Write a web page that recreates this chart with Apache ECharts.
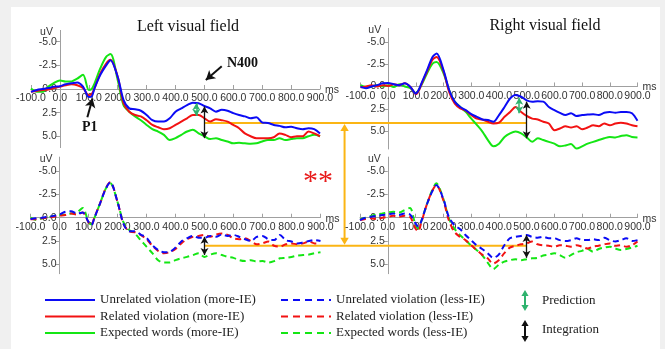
<!DOCTYPE html>
<html>
<head>
<meta charset="utf-8">
<script src="https://cdn.jsdelivr.net/npm/echarts@6/dist/echarts.min.js"></script>
<style>
html,body{margin:0;padding:0;background:#f0f0f0}
#main{width:665px;height:349px}
</style>
</head>
<body>
<div id="main"></div>
<script>
// 时间点 (ms)
var times = [-100,-80,-60,-40,-20,0,20,40,60,80,100,110,120,140,160,175,
  200,220,240,260,280,300,320,340,360,380,400,420,440,460,480,500,520,540,560,580,
  600,620,640,660,680,700,720,740,760,780,800,820,840,860,880,900];

var xTicks = [-100,0,100,200,300,400,500,600,700,800,900];
var yTicks = [-5,-2.5,0,2.5,5];

// Left visual field, more-IE
var lvUnrelMore = [0.3,0.1,0.0,-0.1,-0.25,-0.3,-0.5,-0.6,-0.7,-0.25,0.85,0.8,-0.1,-1.5,-2.5,-3.05,
  -1.3,1.15,2.05,2.15,2.3,2.75,3.3,3.45,3.45,3.1,2.4,2.05,1.7,1.45,1.5,1.8,2.05,2.4,2.2,2.3,
  2.55,2.75,2.9,3.1,3.0,3.55,3.6,3.8,3.9,4.05,4.0,4.15,4.25,4.15,4.25,4.7];
var lvRelMore = [0.3,0.2,0.1,0.05,-0.1,-0.25,-0.4,-0.5,-0.4,-0.1,0.65,0.55,-0.1,-1.65,-2.7,-3.1,
  -1.3,1.5,2.4,2.75,2.9,3.3,3.8,4.05,4.25,4.15,3.8,3.45,3.1,2.75,2.75,3.1,3.45,3.2,3.3,3.45,
  3.8,4.15,4.7,5.0,5.2,5.2,5.2,5.1,4.7,4.85,5.1,5.0,5.0,4.5,4.7,5.0];
var lvExpMore = [-0.05,0.3,0.3,-0.25,-0.65,-0.9,-0.8,-0.8,-1.1,-1.5,0.1,0.0,-0.6,-2.2,-3.4,-3.7,
  -0.95,1.7,2.4,2.9,3.3,3.8,4.25,4.5,4.85,5.4,5.2,4.85,4.5,4.3,4.7,5.0,5.3,5.2,5.4,5.55,
  5.75,5.7,5.75,5.8,5.75,5.55,5.4,5.4,5.2,5.4,5.3,5.2,5.2,5.0,4.85,5.0];

// Right visual field, more-IE
var rvUnrelMore = [0.05,0.2,0.0,-0.15,-0.35,-0.4,-0.25,-0.15,-0.35,0.05,0.8,0.4,-0.35,-1.8,-3.3,-3.7,
  -1.8,0.4,1.7,2.3,2.65,3.1,3.4,3.7,3.75,3.95,3.2,2.3,1.35,0.95,1.15,1.55,1.7,1.65,1.7,2.3,
  2.65,2.95,3.2,3.0,3.3,3.2,3.15,3.1,3.2,2.95,2.85,2.95,2.85,2.85,3.0,3.85];
var rvRelMore = [0.1,0.0,-0.15,0.0,-0.15,-0.05,-0.25,-0.15,-0.35,0.05,0.85,0.5,-0.25,-1.65,-3.0,-3.3,
  -1.65,0.6,1.9,2.45,2.7,3.2,3.6,3.7,3.95,4.15,4.05,3.4,2.85,2.3,2.85,3.3,3.6,3.7,3.95,4.15,
  4.9,4.7,4.45,4.6,4.45,4.8,4.6,4.35,4.45,4.15,4.35,4.15,4.05,4.15,4.35,4.45];
var rvExpMore = [-0.15,0.05,0.0,-0.15,0.0,-0.15,0.05,-0.25,0.0,0.2,0.8,0.4,-0.15,-1.45,-2.55,-2.75,
  -1.45,0.4,1.7,2.3,2.85,3.6,4.3,5.05,6.0,6.7,6.4,5.65,5.25,5.05,5.25,5.7,6.2,5.8,6.0,6.2,
  6.4,6.7,6.6,6.45,6.95,6.7,6.4,6.2,6.0,5.8,5.65,5.7,5.55,5.45,5.65,5.7];

// Left visual field, less-IE
var lvUnrelLess = [0.15,0.05,0.0,-0.1,-0.2,-0.35,-0.65,-0.7,-0.45,-0.55,0.45,0.8,0.05,-1.55,-3.15,-3.8,
  -1.7,0.6,1.45,1.45,1.8,2.15,2.95,3.45,3.7,3.65,3.2,2.55,2.2,1.95,2.15,2.15,1.95,2.05,1.8,1.95,
  1.85,2.05,2.3,2.5,2.05,1.95,2.3,2.4,1.85,2.4,2.55,2.75,2.65,2.5,2.4,2.5];
var lvRelLess = [0.15,0.15,0.05,0.0,-0.1,-0.2,-0.3,-0.45,-0.35,-0.55,0.5,0.8,0.0,-1.55,-3.2,-3.8,
  -1.7,0.6,1.45,1.55,1.85,2.3,3.0,3.55,3.8,3.7,3.35,2.75,2.3,2.05,1.95,1.85,2.05,1.8,1.7,1.85,
  2.2,2.3,2.2,2.5,2.85,2.75,2.55,3.0,3.1,2.85,2.75,2.85,2.75,2.55,2.75,2.75];
var lvExpLess = [0.0,0.25,0.05,0.0,-0.2,-0.3,-0.35,-0.45,-0.55,-1.05,0.45,0.7,0.05,-1.55,-3.15,-3.7,
  -1.7,0.45,1.3,1.7,2.4,3.1,3.8,4.55,4.8,4.8,4.55,4.35,4.2,4.0,3.8,4.2,3.95,3.8,4.0,4.2,
  4.3,4.55,4.65,4.55,4.7,4.65,4.8,4.65,4.35,4.3,4.2,4.05,4.0,3.95,3.8,3.7];

// Right visual field, less-IE
var rvUnrelLess = [0.25,0.0,-0.1,-0.2,-0.3,-0.35,-0.45,-0.3,-0.45,-0.35,0.6,0.95,0.45,-1.35,-2.8,-3.5,
  -2.05,-0.1,0.8,1.2,1.85,2.4,2.95,3.35,3.8,4.3,3.95,2.95,2.2,2.05,1.95,1.85,2.05,2.15,2.05,2.2,
  2.2,2.4,2.5,2.4,2.2,2.4,2.4,2.3,2.4,2.15,2.4,2.55,2.4,2.2,2.5,2.4];
var rvRelLess = [0.25,0.15,0.05,0.15,0.0,-0.1,-0.2,-0.1,-0.2,-0.1,1.15,1.45,0.6,-1.35,-2.85,-3.5,
  -1.9,0.25,1.5,2.05,2.4,2.95,3.45,3.95,4.35,4.9,4.55,3.8,3.2,3.0,2.85,2.75,2.55,2.85,2.95,3.0,
  3.1,2.95,3.0,3.1,2.95,3.1,3.3,3.1,3.0,2.85,2.75,3.0,2.95,3.1,2.95,2.55];
var rvExpLess = [0.15,0.0,-0.2,-0.35,-0.45,-0.55,-0.65,-0.55,-0.8,-1.05,0.8,1.15,0.45,-1.35,-2.95,-3.7,
  -2.05,0.05,1.15,1.85,2.4,2.95,3.45,4.0,4.8,5.5,5.05,4.7,4.55,4.45,4.55,4.45,4.35,4.3,4.05,3.95,
  3.8,4.0,4.3,4.0,3.7,3.55,3.35,3.65,3.35,3.2,3.1,3.3,3.45,3.35,3.2,3.0];

var seriesNames = ['Unrelated violation', 'Related violation', 'Expected words'];

var myChart = echarts.init(document.getElementById('main'));
var ink = '#333', axisGray = '#a0a0a0';
var sans = 'Liberation Sans, Arial, sans-serif';
var serif = 'Liberation Serif, Times New Roman, serif';
var blue = '#0b0bf5', red = '#f21212', green = '#14e614', predColor = '#2fb36e', orange = '#fbb514';
var colors = [blue, red, green];

var grids = [
  {left: 31, top: 30.4, width: 289, height: 117.2},
  {left: 360.5, top: 28.4, width: 277, height: 120.6},
  {left: 30.5, top: 157.1, width: 290, height: 116.6},
  {left: 360, top: 157.1, width: 277.5, height: 116.6}
];
var yRanges = [[-6.2, 6.2], [-6.5, 7.0], [-6.5, 6.0], [-6.5, 6.0]];
var xMin = -100, xMax = 900;

function pairs(arr) {
  return times.map(function (t, k) { return [t, arr[k]]; });
}

function line(name, arr, gi, color, dashed) {
  return {
    type: 'line', name: name, xAxisIndex: gi, yAxisIndex: gi,
    data: pairs(arr), symbol: 'none', smooth: 0.3, silent: true,
    lineStyle: {color: color, width: 2, type: dashed ? [6, 4] : 'solid'},
    itemStyle: {color: color}
  };
}

function arrowMark(items, color, width, size) {
  return {
    silent: true, symbol: ['arrow', 'arrow'], symbolSize: size,
    label: {show: false},
    lineStyle: {color: color, width: width, type: 'solid'},
    data: items
  };
}

var groups = [
  [lvUnrelMore, lvRelMore, lvExpMore, ' (more-IE)', false],
  [rvUnrelMore, rvRelMore, rvExpMore, ' (more-IE)', false],
  [lvUnrelLess, lvRelLess, lvExpLess, ' (less-IE)', true],
  [rvUnrelLess, rvRelLess, rvExpLess, ' (less-IE)', true]
];

// 黑色箭头(Integration)
var integ = [
  [[{coord: [500, 1.85]}, {coord: [500, 5.2]}]],
  [[{coord: [500, 1.7]}, {coord: [500, 5.8]}]],
  [[{coord: [500, 2.05]}, {coord: [500, 4.0]}]],
  [[{coord: [500, 1.85]}, {coord: [500, 4.3]}]]
];
// 绿色箭头(Prediction)
var pred = [
  [[{coord: [472, 1.5]}, {coord: [472, 2.85]}]],
  [[{coord: [473, 1.25]}, {coord: [473, 3.0]}]],
  [], []
];

var series = [];
groups.forEach(function (g, gi) {
  var s3 = line(seriesNames[2] + g[3], g[2], gi, green, g[4]);
  var s2 = line(seriesNames[1] + g[3], g[1], gi, red, g[4]);
  var s1 = line(seriesNames[0] + g[3], g[0], gi, blue, g[4]);
  s1.markLine = arrowMark(integ[gi], '#111', 1.3, [6, 7]);
  if (pred[gi].length) s2.markLine = arrowMark(pred[gi], predColor, 1.5, [6, 7]);
  if (gi === 0) {
    s3.markLine = {
      silent: true, symbol: ['none', 'arrow'], symbolSize: [8, 9],
      label: {show: false},
      lineStyle: {color: '#111', width: 2, type: 'solid'},
      data: [
        [{coord: [560, -2.4]}, {coord: [505, -0.95]}],
        [{coord: [95, 3.0]}, {coord: [113, 1.0]}]
      ]
    };
  }
  series.push(s3, s2, s1);
});

var option = {
  animation: false,
  backgroundColor: '#f0f0f0',
  title: [
    {text: 'Left visual field', left: 183, top: 14, textAlign: 'center',
      textStyle: {fontFamily: serif, fontSize: 16, fontWeight: 'normal', color: '#111'}},
    {text: 'Right visual field', left: 540, top: 13, textAlign: 'center',
      textStyle: {fontFamily: serif, fontSize: 16, fontWeight: 'normal', color: '#111'}}
  ],
  grid: grids,
  // 坐标轴放在零点处: 用 offset 把轴线从网格边缘移到 0
  xAxis: grids.map(function (g, i) {
    var r = yRanges[i];
    return {
      type: 'value', gridIndex: i, min: xMin, max: xMax, interval: 100,
      position: 'bottom', offset: -g.height * r[1] / (r[1] - r[0]),
      axisLine: {onZero: false, lineStyle: {color: axisGray}},
      axisTick: {inside: true, length: 4, customValues: xTicks, lineStyle: {color: axisGray}},
      axisLabel: {color: ink, fontSize: 10.5, fontFamily: sans, margin: 4, customValues: xTicks,
        formatter: function (v) { return v.toFixed(1); }},
      splitLine: {show: false}
    };
  }),
  yAxis: grids.map(function (g, i) {
    return {
      type: 'value', gridIndex: i, inverse: true, min: yRanges[i][0], max: yRanges[i][1],
      position: 'left', offset: -g.width * (0 - xMin) / (xMax - xMin),
      axisLine: {onZero: false, lineStyle: {color: axisGray}},
      axisTick: {length: 4, customValues: yTicks, lineStyle: {color: axisGray}},
      axisLabel: {color: ink, fontSize: 10.5, fontFamily: sans, margin: 3, customValues: yTicks,
        formatter: function (v) { return v.toFixed(1); }},
      splitLine: {show: false}
    };
  }),
  series: series
};

myChart.setOption(option);

// 注释图形,位置从坐标轴换算
function px(g, p) { return myChart.convertToPixel({gridIndex: g}, p); }

function vArrow(x, y1, y2, color, w, head) {
  return [
    {type: 'line', shape: {x1: x, y1: y1 + head - 1, x2: x, y2: y2 - head + 1},
      style: {stroke: color, lineWidth: w}, silent: true},
    {type: 'polygon', shape: {points: [[x, y1], [x - head * 0.6, y1 + head], [x + head * 0.6, y1 + head]]},
      style: {fill: color}, silent: true},
    {type: 'polygon', shape: {points: [[x, y2], [x - head * 0.6, y2 - head], [x + head * 0.6, y2 - head]]},
      style: {fill: color}, silent: true}
  ];
}

var topL = px(0, [500, 3.6]);
var topR = px(1, [500, 0]);
var botL = px(2, [500, 3.0]);
var midX = px(0, [985, 0])[0];

var gfx = [
  {type: 'rect', shape: {x: 11, y: 7, width: 649, height: 342}, style: {fill: '#fff'}, z: -100, silent: true},
  {type: 'line', shape: {x1: topL[0], y1: topL[1], x2: topR[0], y2: topL[1]},
    style: {stroke: orange, lineWidth: 2}, z: 1, silent: true},
  {type: 'line', shape: {x1: botL[0], y1: botL[1], x2: topR[0], y2: botL[1]},
    style: {stroke: orange, lineWidth: 2}, z: 1, silent: true}
];
gfx = gfx.concat(vArrow(midX, topL[1] + 1, botL[1] - 1, orange, 2, 7));

// 轴名 uV / ms
[0, 1, 2, 3].forEach(function (i) {
  var p = px(i, [0, yRanges[i][0]]);
  var q = px(i, [xMax, 0]);
  gfx.push(
    {type: 'text', x: p[0] - 7, y: p[1] + 2,
      style: {text: 'uV', fill: ink, font: '10.5px ' + sans, textAlign: 'right', textVerticalAlign: 'middle'}, silent: true},
    {type: 'text', x: q[0] + 5, y: q[1] + 1,
      style: {text: 'ms', fill: ink, font: '10.5px ' + sans, textAlign: 'left', textVerticalAlign: 'middle'}, silent: true}
  );
});

var n400 = px(0, [578, -2.75]);
var p1 = px(0, [103, 4.1]);
var stars = px(0, [893, 9.8]);
gfx.push(
  {type: 'text', x: n400[0], y: n400[1],
    style: {text: 'N400', fill: '#111', font: 'bold 14px ' + serif, textAlign: 'left', textVerticalAlign: 'middle'}, silent: true},
  {type: 'text', x: p1[0], y: p1[1],
    style: {text: 'P1', fill: '#111', font: 'bold 14px ' + serif, textAlign: 'center', textVerticalAlign: 'middle'}, silent: true},
  {type: 'text', x: stars[0], y: stars[1],
    style: {text: '**', fill: '#e81c1c', font: '30px ' + serif, textAlign: 'center', textVerticalAlign: 'middle'}, silent: true}
);

// 图例(手画): 实线 more-IE, 虚线 less-IE
var rowY = [300, 316.5, 333];
seriesNames.forEach(function (n, k) {
  gfx.push(
    {type: 'line', shape: {x1: 45, y1: rowY[k], x2: 95, y2: rowY[k]},
      style: {stroke: colors[k], lineWidth: 2}, silent: true},
    {type: 'text', x: 100, y: rowY[k],
      style: {text: n + ' (more-IE)', fill: '#222', font: '13px ' + serif, textVerticalAlign: 'middle'}, silent: true},
    {type: 'line', shape: {x1: 281, y1: rowY[k], x2: 331, y2: rowY[k]},
      style: {stroke: colors[k], lineWidth: 2, lineDash: [7, 5]}, silent: true},
    {type: 'text', x: 336, y: rowY[k],
      style: {text: n + ' (less-IE)', fill: '#222', font: '13px ' + serif, textVerticalAlign: 'middle'}, silent: true}
  );
});

// 图例: Prediction / Integration
gfx = gfx.concat(vArrow(525, 290, 311, predColor, 2, 6));
gfx = gfx.concat(vArrow(525, 320, 342, '#111', 2, 6));
gfx.push(
  {type: 'text', x: 542, y: 301, style: {text: 'Prediction', fill: '#222', font: '13px ' + serif, textVerticalAlign: 'middle'}, silent: true},
  {type: 'text', x: 542, y: 330, style: {text: 'Integration', fill: '#222', font: '13px ' + serif, textVerticalAlign: 'middle'}, silent: true}
);

myChart.setOption({graphic: {elements: gfx}});
</script>
</body>
</html>
